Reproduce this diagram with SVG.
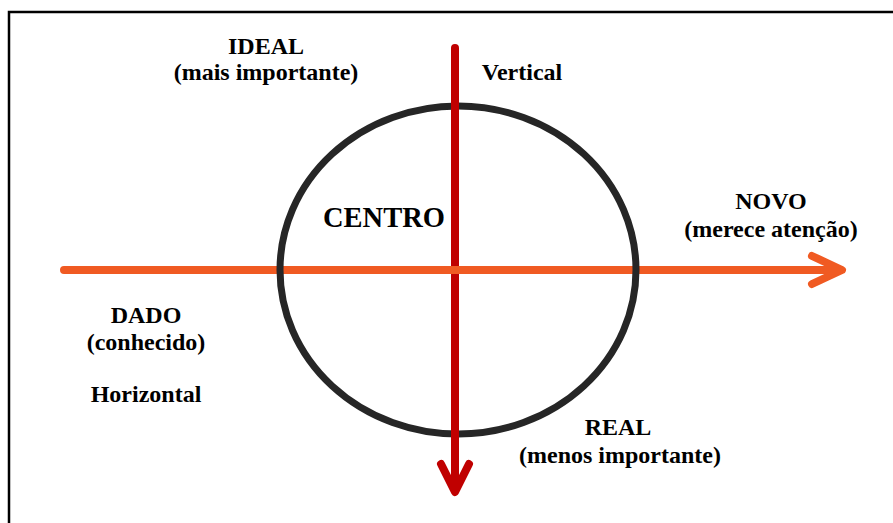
<svg xmlns="http://www.w3.org/2000/svg" width="893" height="523" viewBox="0 0 893 523">
<style>
.t{font-family:"Liberation Serif","Times New Roman",serif;font-weight:bold;font-size:24px;fill:#000;text-anchor:middle}
.big{font-size:28.5px}
.h{stroke:#F05A22;stroke-width:8;stroke-linecap:round;stroke-linejoin:round;fill:none}
.v{stroke:#C00000;stroke-width:8;stroke-linecap:round;stroke-linejoin:round;fill:none}
</style>
<rect width="893" height="523" fill="#fff"/>
<rect x="9" y="12" width="900" height="520" fill="none" stroke="#000" stroke-width="2.5"/>
<g id="connectors">
<path id="horizontal-axis" class="h" d="M64 270 H840 M812 256 L842 270 L812 284"/>
<g id="centro"><ellipse cx="458" cy="270" rx="178" ry="164" fill="none" stroke="#262626" stroke-width="7"/></g>
<path id="vertical-axis" class="v" d="M455 48 V490 M441 464 L455 492 L469 464"/>
<path class="h" d="M445 270 H465" stroke-linecap="butt"/>
</g>
<g id="ideal"><text class="t" x="266" y="54">IDEAL</text><text class="t" x="266" y="80">(mais importante)</text></g>
<g id="vertical"><text class="t" x="522" y="80">Vertical</text></g>
<g id="centro-label"><text class="t big" x="384" y="227">CENTRO</text></g>
<g id="novo"><text class="t" x="771" y="209">NOVO</text><text class="t" x="771" y="237">(merece atenção)</text></g>
<g id="dado"><text class="t" x="146" y="323">DADO</text><text class="t" x="146" y="350">(conhecido)</text></g>
<g id="horizontal"><text class="t" x="146" y="402">Horizontal</text></g>
<g id="real"><text class="t" x="618" y="435">REAL</text><text class="t" x="620" y="463">(menos importante)</text></g>
</svg>
